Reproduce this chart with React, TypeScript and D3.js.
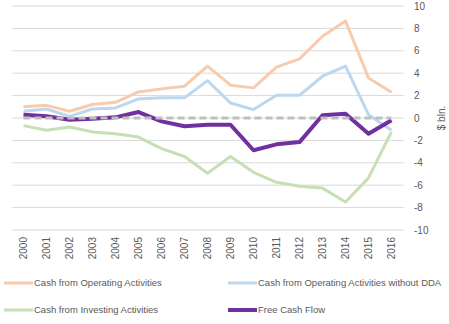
import React from "react";
import * as d3 from "d3";

const years = ["2000","2001","2002","2003","2004","2005","2006","2007","2008","2009","2010","2011","2012","2013","2014","2015","2016"];
const cfo = [1.0, 1.13, 0.6, 1.2, 1.4, 2.33, 2.6, 2.84, 4.63, 2.93, 2.69, 4.54, 5.28, 7.3, 8.66, 3.58, 2.3];
const cfoNoDda = [0.6, 0.8, 0.15, 0.8, 0.9, 1.7, 1.8, 1.8, 3.34, 1.34, 0.75, 2.03, 2.03, 3.73, 4.63, 0.3, -1.1];
const cfi = [-0.68, -1.09, -0.8, -1.24, -1.41, -1.7, -2.74, -3.44, -4.94, -3.44, -4.85, -5.74, -6.1, -6.26, -7.5, -5.35, -1.24];
const fcf = [0.3, 0.15, -0.15, -0.06, 0.06, 0.53, -0.3, -0.74, -0.6, -0.6, -2.88, -2.35, -2.15, 0.24, 0.38, -1.41, -0.2];
const yTicks = [10, 8, 6, 4, 2, 0, -2, -4, -6, -8, -10];
const seriesNames = ["Cash from Operating Activities", "Cash from Operating Activities without DDA", "Cash from Investing Activities", "Free Cash Flow"];

const W = 449, H = 324;
const font = "'Liberation Sans', Arial, sans-serif";

export default function App() {
  const x = d3.scaleBand<string>().domain(years).range([12, 403]);
  const y = d3.scaleLinear().domain([-10, 10]).range([230, 6]);
  const cx = (yr: string) => (x(yr) as number) + x.bandwidth() / 2;
  const line = d3.line<number>().x((_, i) => cx(years[i])).y((d) => y(d));

  const series = [
    { name: seriesNames[0], data: cfo, color: "#F8CBAD", w: 3 },
    { name: seriesNames[1], data: cfoNoDda, color: "#BDD7EE", w: 3 },
    { name: seriesNames[2], data: cfi, color: "#C5E0B4", w: 3 },
    { name: seriesNames[3], data: fcf, color: "#7030A0", w: 4 },
  ];
  const legendPos = [
    { x: 4, y: 283 }, { x: 228, y: 283 }, { x: 4, y: 310 }, { x: 228, y: 310 },
  ];

  return (
    <svg width={W} height={H} style={{ position: "absolute", left: 0, top: 0, background: "#fff" }} fontFamily={font}>
      {yTicks.map((t) => (
        <g key={t}>
          <line x1={12} x2={404} y1={y(t)} y2={y(t)} stroke="#D9D9D9" strokeWidth={1} />
          <text x={414} y={y(t)} dy="0.35em" fontSize={10} fill="#595959">{t}</text>
        </g>
      ))}
      <text transform={`translate(441,${y(0)}) rotate(-90)`} textAnchor="middle" dy="0.35em" fontSize={10} fill="#595959">$ bln.</text>
      {years.map((yr) => (
        <text key={yr} transform={`translate(${cx(yr)},237) rotate(-90)`} textAnchor="end" dy="0.35em" fontSize={10} fill="#595959">{yr}</text>
      ))}
      {series.map((s) => (
        <path key={s.name} d={line(s.data) || ""} fill="none" stroke={s.color} strokeWidth={s.w} strokeLinejoin="round" />
      ))}
      <line x1={cx(years[0])} x2={cx(years[years.length - 1])} y1={y(0)} y2={y(0)} stroke="#BFBFBF" strokeWidth={3} strokeDasharray="7,4" />
      {series.map((s, i) => (
        <g key={s.name + "l"}>
          <line x1={legendPos[i].x} x2={legendPos[i].x + 29} y1={legendPos[i].y} y2={legendPos[i].y} stroke={s.color} strokeWidth={s.w} />
          <text x={legendPos[i].x + 30} y={legendPos[i].y} dy="0.35em" fontSize={9.5} fill="#595959">{s.name}</text>
        </g>
      ))}
    </svg>
  );
}
